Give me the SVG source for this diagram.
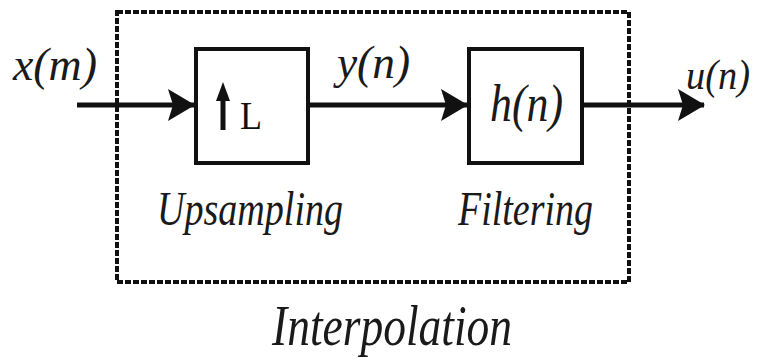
<svg xmlns="http://www.w3.org/2000/svg" width="762" height="358" viewBox="0 0 762 358">
<defs>
<style>
.t{font-family:"Liberation Serif","DejaVu Serif",serif;font-style:italic;fill:#1a1a1a}
.box{fill:#fff;stroke:#111;stroke-width:4}
.ln{stroke:#111;stroke-width:5;fill:none}
.dash{fill:none;stroke:#111;stroke-width:4;stroke-dasharray:6 2}
</style>
<marker id="ah" markerWidth="28" markerHeight="34" refX="26" refY="16" orient="auto" markerUnits="userSpaceOnUse">
<path d="M0,0 L27,16 L0,32 L5,16 Z" fill="#111"/>
</marker>
</defs>
<rect width="762" height="358" fill="#fff"/>
<g id="interpolation">
<rect class="dash" x="117" y="12" width="512" height="270"/>
<text class="t" x="272" y="345" font-size="56" textLength="240" lengthAdjust="spacingAndGlyphs">Interpolation</text>
</g>
<g id="connectors">
<line class="ln" x1="77" y1="105" x2="194" y2="105" marker-end="url(#ah)"/>
<line class="ln" x1="308" y1="105" x2="467" y2="105" marker-end="url(#ah)"/>
<line class="ln" x1="582" y1="105" x2="704" y2="105" marker-end="url(#ah)"/>
</g>
<g id="upsampling">
<rect class="box" x="196" y="49" width="112" height="114"/>
<path d="M223,130 V96" stroke="#111" stroke-width="5"/>
<path d="M216,101 L223,82 L230,101 Z" fill="#111"/>
<text x="240" y="129" font-family="Liberation Serif, serif" font-size="40" fill="#111" textLength="22" lengthAdjust="spacingAndGlyphs">L</text>
<text class="t" x="157" y="225" font-size="48" textLength="186" lengthAdjust="spacingAndGlyphs">Upsampling</text>
</g>
<g id="filtering">
<rect class="box" x="469" y="49" width="113" height="114"/>
<text class="t" x="490" y="121" font-size="52" textLength="73" lengthAdjust="spacingAndGlyphs">h(n)</text>
<text class="t" x="458" y="225" font-size="48" textLength="135" lengthAdjust="spacingAndGlyphs">Filtering</text>
</g>
<g id="labels">
<text class="t" x="13" y="80" font-size="46" textLength="84" lengthAdjust="spacingAndGlyphs">x(m)</text>
<text class="t" x="337" y="78" font-size="46" textLength="73" lengthAdjust="spacingAndGlyphs">y(n)</text>
<text class="t" x="686" y="89" font-size="42" textLength="64" lengthAdjust="spacingAndGlyphs">u(n)</text>
</g>
</svg>
